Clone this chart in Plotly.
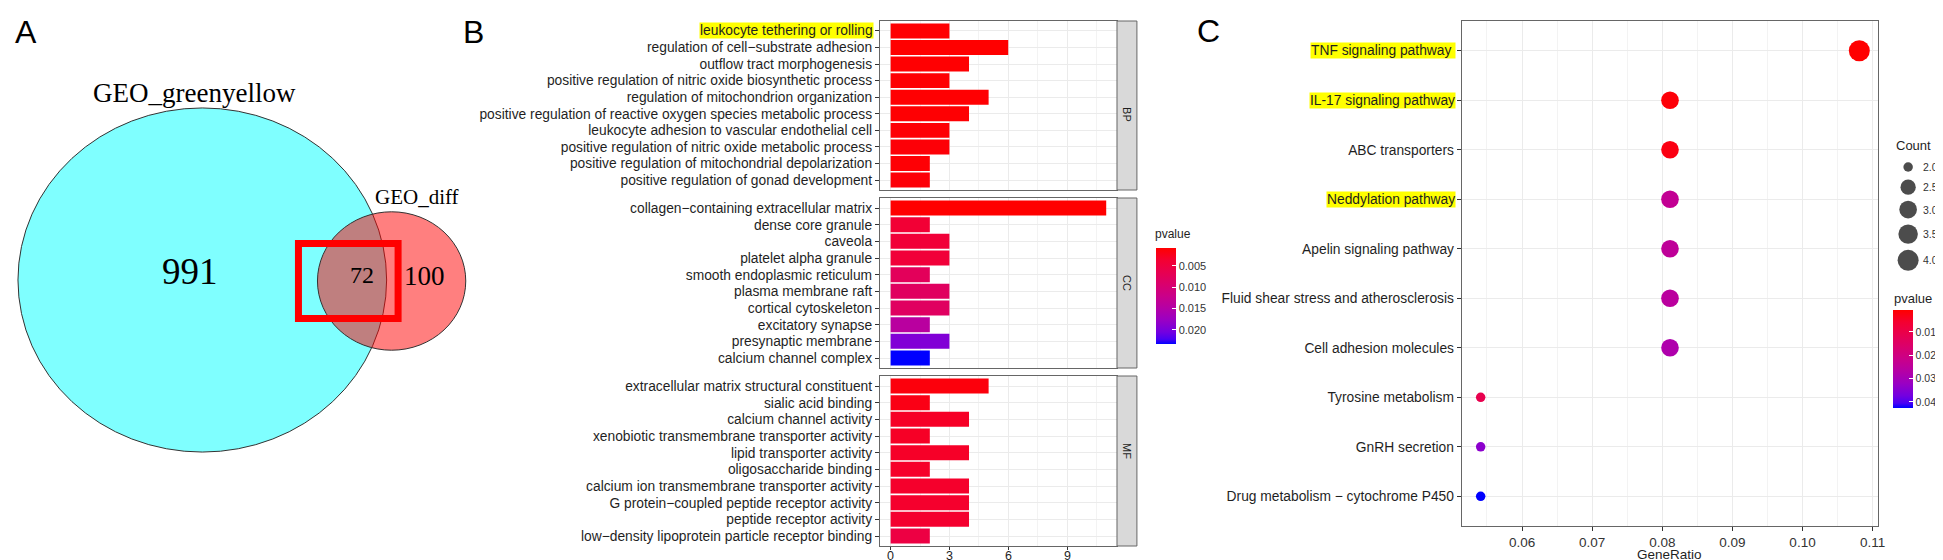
import math
import plotly.graph_objects as go

W, H = 1943, 560

# ---- data ----
venn_names = ["GEO_greenyellow", "GEO_diff"]
venn_only = [991, 100]
venn_both = 72

bp_terms = [
    "leukocyte tethering or rolling",
    "regulation of cell\u2212substrate adhesion",
    "outflow tract morphogenesis",
    "positive regulation of nitric oxide biosynthetic process",
    "regulation of mitochondrion organization",
    "positive regulation of reactive oxygen species metabolic process",
    "leukocyte adhesion to vascular endothelial cell",
    "positive regulation of nitric oxide metabolic process",
    "positive regulation of mitochondrial depolarization",
    "positive regulation of gonad development",
]
bp_count = [3, 6, 4, 3, 5, 4, 3, 3, 2, 2]
bp_pvalue = [0.0009, 0.0008, 0.0009, 0.0010, 0.0009, 0.0010, 0.0011, 0.0012, 0.0011, 0.0012]

cc_terms = [
    "collagen\u2212containing extracellular matrix",
    "dense core granule",
    "caveola",
    "platelet alpha granule",
    "smooth endoplasmic reticulum",
    "plasma membrane raft",
    "cortical cytoskeleton",
    "excitatory synapse",
    "presynaptic membrane",
    "calcium channel complex",
]
cc_count = [11, 2, 3, 3, 2, 3, 3, 2, 3, 2]
cc_pvalue = [0.0008, 0.0040, 0.0043, 0.0044, 0.0075, 0.0080, 0.0081, 0.0143, 0.0195, 0.0233]

mf_terms = [
    "extracellular matrix structural constituent",
    "sialic acid binding",
    "calcium channel activity",
    "xenobiotic transmembrane transporter activity",
    "lipid transporter activity",
    "oligosaccharide binding",
    "calcium ion transmembrane transporter activity",
    "G protein\u2212coupled peptide receptor activity",
    "peptide receptor activity",
    "low\u2212density lipoprotein particle receptor binding",
]
mf_count = [5, 2, 4, 2, 4, 2, 4, 4, 4, 2]
mf_pvalue = [0.0015, 0.0020, 0.0030, 0.0030, 0.0031, 0.0032, 0.0033, 0.0034, 0.0035, 0.0053]

go_ticks = [0, 3, 6, 9]
go_bar_ticks = [0.005, 0.010, 0.015, 0.020]
go_highlight = ["leukocyte tethering or rolling"]

kegg_terms = [
    "TNF signaling pathway",
    "IL-17 signaling pathway",
    "ABC transporters",
    "Neddylation pathway",
    "Apelin signaling pathway",
    "Fluid shear stress and atherosclerosis",
    "Cell adhesion molecules",
    "Tyrosine metabolism",
    "GnRH secretion",
    "Drug metabolism \u2212 cytochrome P450",
]
kegg_ratio = [0.1081, 0.0811, 0.0811, 0.0811, 0.0811, 0.0811, 0.0811, 0.0541, 0.0541, 0.0541]
kegg_count = [4, 3, 3, 3, 3, 3, 3, 2, 2, 2]
kegg_pvalue = [0.0006, 0.0015, 0.0025, 0.0235, 0.0245, 0.0255, 0.0280, 0.0110, 0.0340, 0.0426]
kegg_ticks = [0.06, 0.07, 0.08, 0.09, 0.10, 0.11]
kegg_bar_ticks = [0.01, 0.02, 0.03, 0.04]
kegg_highlight = ["TNF signaling pathway", "IL-17 signaling pathway", "Neddylation pathway"]
count_legend = [2.0, 2.5, 3.0, 3.5, 4.0]

# red -> blue gradient interpolated in Lab, as ggplot does
PVAL_SCALE = [
    [0, "#FF0000"], [0.125, "#F40031"], [0.25, "#E8004F"], [0.375, "#DA006C"],
    [0.5, "#CA0089"], [0.625, "#B500A5"], [0.75, "#9A00C3"], [0.875, "#7300E0"],
    [0.95, "#4B00F3"], [1, "#0000FF"],
]
# the colour bars run with small p at the top, so colour is mapped on -p
PVAL_SCALE_NEG = [[round(1 - s, 3), c] for s, c in reversed(PVAL_SCALE)]

SANS = "Liberation Sans, Arial, sans-serif"
SERIF = "Liberation Serif, Times New Roman, serif"
TXT = "#1f1f1f"
FRAME = "#666666"
GRID = "#EBEBEB"
LBL = 13.8


def fx(p):
    return p / W


def fy(p):
    return 1 - p / H


def dot_size(c, lo, hi):
    # ggplot scale_size (area palette, range 1..6) converted to px diameter
    return 7.2 + 2.3 * (1 + 5 * math.sqrt((c - lo) / (hi - lo)))


fig = go.Figure()

# ---- B: GO bars, three facets ----
facets = [
    ("BP", bp_terms, bp_count, bp_pvalue, "x", "y", 13, 182),
    ("CC", cc_terms, cc_count, cc_pvalue, "x2", "y2", 190, 360),
    ("MF", mf_terms, mf_count, mf_pvalue, "x3", "y3", 368, 538),
]
max_count = max(bp_count + cc_count + mf_count)

layout_axes = {}
shapes = []
annotations = []

for i, (name, terms, counts, pv, xa, ya, top, bot) in enumerate(facets):
    fig.add_trace(go.Bar(
        x=counts, y=terms, orientation="h",
        marker=dict(color=[-p for p in pv], coloraxis="coloraxis", line=dict(width=0)),
        xaxis=xa, yaxis=ya, showlegend=False, hoverinfo="skip",
    ))
    last = i == len(facets) - 1
    xkey = "xaxis" if i == 0 else f"xaxis{i + 1}"
    ykey = "yaxis" if i == 0 else f"yaxis{i + 1}"
    layout_axes[xkey] = dict(
        domain=[fx(875), fx(1113)], anchor=ya,
        range=[-0.05 * max_count, 1.05 * max_count],
        tickmode="array", tickvals=go_ticks,
        showticklabels=False, ticks="outside" if last else "",
        ticklen=3, tickcolor="#333",
        showgrid=True, gridcolor=GRID, gridwidth=1,
        minor=dict(tick0=1.5, dtick=3, showgrid=True, gridcolor="#F3F3F3", gridwidth=1),
        zeroline=False, showline=True, linecolor=FRAME, linewidth=1, mirror=True,
    )
    layout_axes[ykey] = dict(
        domain=[fy(bot), fy(top)], anchor=xa, type="category",
        categoryorder="array", categoryarray=terms,
        range=[len(terms) - 0.4, -0.6],
        tickmode="array", tickvals=terms,
        ticktext=["" if t in go_highlight else t for t in terms],
        ticks="outside", ticklen=4, tickcolor="#333",
        tickfont=dict(family=SANS, size=LBL, color=TXT),
        showgrid=True, gridcolor=GRID, gridwidth=1,
        zeroline=False, showline=True, linecolor=FRAME, linewidth=1, mirror=True,
    )
    shapes.append(dict(type="rect", xref="paper", yref="paper",
                       x0=fx(1113), x1=fx(1133), y0=fy(bot), y1=fy(top),
                       fillcolor="#D9D9D9", line=dict(color=FRAME, width=1)))
    annotations.append(dict(text=name, xref="paper", yref="paper",
                            x=fx(1123), y=fy((top + bot) / 2), textangle=90,
                            showarrow=False, font=dict(family=SANS, size=11, color=TXT)))
    for t in terms:
        if t in go_highlight:
            annotations.append(dict(text=t, xref=f"{xa} domain", yref=ya, x=0, y=t,
                                    xanchor="right", yanchor="middle", xshift=-6,
                                    showarrow=False, bgcolor="#FFFF00", borderpad=0,
                                    font=dict(family=SANS, size=LBL, color=TXT)))

# count ticks of the bottom facet, set tight under the panel
for v in go_ticks:
    annotations.append(dict(text=str(v), xref="x3", yref="paper", x=v, y=fy(548),
                            xanchor="center", yanchor="middle", showarrow=False,
                            font=dict(family=SANS, size=12.5, color=TXT)))

# ---- C: KEGG dot plot ----
cmin, cmax = min(kegg_count), max(kegg_count)
fig.add_trace(go.Scatter(
    x=kegg_ratio, y=kegg_terms, mode="markers",
    marker=dict(size=[dot_size(c, cmin, cmax) for c in kegg_count],
                color=[-p for p in kegg_pvalue], coloraxis="coloraxis2",
                line=dict(width=0), opacity=1),
    xaxis="x4", yaxis="y4", showlegend=False, hoverinfo="skip",
))
span = max(kegg_ratio) - min(kegg_ratio)
layout_axes["xaxis4"] = dict(
    domain=[fx(1459), fx(1877)], anchor="y4",
    range=[min(kegg_ratio) - 0.05 * span, max(kegg_ratio) + 0.05 * span],
    tickmode="array", tickvals=kegg_ticks, ticktext=[f"{v:.2f}" for v in kegg_ticks],
    ticks="outside", ticklen=4, tickcolor="#333",
    tickfont=dict(family=SANS, size=13.5, color="#333"),
    showgrid=True, gridcolor=GRID, gridwidth=1,
    minor=dict(tick0=0.055, dtick=0.01, showgrid=True, gridcolor="#F3F3F3", gridwidth=1),
    zeroline=False, showline=True, linecolor=FRAME, linewidth=1, mirror=True,
)
layout_axes["yaxis4"] = dict(
    domain=[fy(518), fy(13)], anchor="x4", type="category",
    categoryorder="array", categoryarray=kegg_terms,
    range=[len(kegg_terms) - 0.4, -0.6],
    tickmode="array", tickvals=kegg_terms,
    ticktext=["" if t in kegg_highlight else t for t in kegg_terms],
    ticks="outside", ticklen=4, tickcolor="#333",
    tickfont=dict(family=SANS, size=LBL, color=TXT),
    showgrid=True, gridcolor=GRID, gridwidth=1,
    zeroline=False, showline=True, linecolor=FRAME, linewidth=1, mirror=True,
)
for t in kegg_terms:
    if t in kegg_highlight:
        label = t + "\u00a0" if t == kegg_terms[0] else t
        annotations.append(dict(text=label, xref="x4 domain", yref="y4", x=0, y=t,
                                xanchor="right", yanchor="middle", xshift=-6,
                                showarrow=False, bgcolor="#FFFF00", borderpad=0,
                                font=dict(family=SANS, size=LBL, color=TXT)))

# overlay axis in pixel units for the Venn diagram and the size legend
layout_axes["xaxis5"] = dict(domain=[0, 1], range=[0, W], anchor="y5", visible=False)
layout_axes["yaxis5"] = dict(domain=[0, 1], range=[H, 0], anchor="x5", visible=False)

# Count legend
leg_sizes = [dot_size(v, cmin, cmax) for v in count_legend]
leg_y = []
cur = 149.5
for s in leg_sizes:
    h = max(19, s + 6)
    leg_y.append(cur + h / 2)
    cur += h
fig.add_trace(go.Scatter(
    x=[1907] * len(count_legend), y=leg_y, mode="markers",
    marker=dict(size=leg_sizes, color="black", line=dict(width=0)),
    xaxis="x5", yaxis="y5", showlegend=False, hoverinfo="skip",
))
for v, yy in zip(count_legend, leg_y):
    annotations.append(dict(text=f"{v:.1f}", xref="x5", yref="y5", x=1920, y=yy,
                            xanchor="left", yanchor="middle", showarrow=False,
                            font=dict(family=SANS, size=10.5, color="#333")))
annotations.append(dict(text="Count", xref="x5", yref="y5", x=1893, y=137,
                        xanchor="left", yanchor="middle", showarrow=False,
                        font=dict(family=SANS, size=13, color=TXT)))
annotations.append(dict(text="pvalue", xref="x5", yref="y5", x=1891, y=290,
                        xanchor="left", yanchor="middle", showarrow=False,
                        font=dict(family=SANS, size=13, color=TXT)))
annotations.append(dict(text="pvalue", xref="x5", yref="y5", x=1149, y=226,
                        xanchor="left", yanchor="middle", showarrow=False,
                        font=dict(family=SANS, size=12, color=TXT)))
annotations.append(dict(text="GeneRatio", xref="x5", yref="y5", x=1668, y=546,
                        xanchor="center", yanchor="middle", showarrow=False,
                        font=dict(family=SANS, size=13.5, color=TXT)))

# ---- A: Venn (circle areas follow the set sizes) ----
n_big = venn_only[0] + venn_both
n_small = venn_only[1] + venn_both
k = 185 / math.sqrt(n_big)
circles = [
    (195, 272, k * math.sqrt(n_big), "rgba(0,255,255,0.5)"),
    (385, 273, k * math.sqrt(n_small), "rgba(255,0,0,0.5)"),
]
for cx, cy, r, col in circles:
    shapes.append(dict(type="circle", xref="x5", yref="y5",
                       x0=cx - r, x1=cx + r, y0=cy - r * 0.93, y1=cy + r * 0.93,
                       fillcolor=col, line=dict(color="#333", width=1)))
shapes.append(dict(type="rect", xref="x5", yref="y5", x0=291.5, x1=391.5, y0=235.5, y1=310.5,
                   fillcolor="rgba(0,0,0,0)", line=dict(color="#FF0000", width=7)))

venn_text = [
    (venn_names[0], 187, 85, 27),
    (venn_names[1], 410, 189, 21),
    (str(venn_only[0]), 183, 263, 37),
    (str(venn_both), 355, 267, 24),
    (str(venn_only[1]), 418, 268, 27),
]
for txt, x, y, s in venn_text:
    annotations.append(dict(text=txt, xref="x5", yref="y5", x=x, y=y,
                            xanchor="center", yanchor="middle", showarrow=False,
                            font=dict(family=SERIF, size=s, color="black")))

for letter, x, y in [("A", 18, 24), ("B", 467, 24), ("C", 1205, 23)]:
    annotations.append(dict(text=letter, xref="x5", yref="y5", x=x, y=y,
                            xanchor="center", yanchor="middle", showarrow=False,
                            font=dict(family=SANS, size=32, color="black")))

cb_common = dict(xanchor="left", yanchor="top", xpad=0, ypad=0, lenmode="pixels",
                 thickness=20, thicknessmode="pixels", outlinewidth=0,
                 ticks="inside", ticklen=4, tickcolor="white", tickwidth=1)

fig.update_layout(
    width=W, height=H,
    margin=dict(l=0, r=0, t=0, b=0),
    paper_bgcolor="white", plot_bgcolor="rgba(0,0,0,0)",
    bargap=0.1, showlegend=False,
    coloraxis=dict(colorscale=PVAL_SCALE_NEG, colorbar=dict(
        x=fx(1152), y=fy(240), len=96, tickvals=[-v for v in go_bar_ticks],
        ticktext=[f"{v:.3f}" for v in go_bar_ticks],
        tickfont=dict(family=SANS, size=11, color="#333"), **cb_common)),
    coloraxis2=dict(colorscale=PVAL_SCALE_NEG, colorbar=dict(
        x=fx(1892), y=fy(302), len=98, tickvals=[-v for v in kegg_bar_ticks],
        ticktext=[f"{v:.2f}" for v in kegg_bar_ticks],
        tickfont=dict(family=SANS, size=10.5, color="#333"), **cb_common)),
    shapes=shapes, annotations=annotations,
    **layout_axes,
)

fig.write_html("out.html")
